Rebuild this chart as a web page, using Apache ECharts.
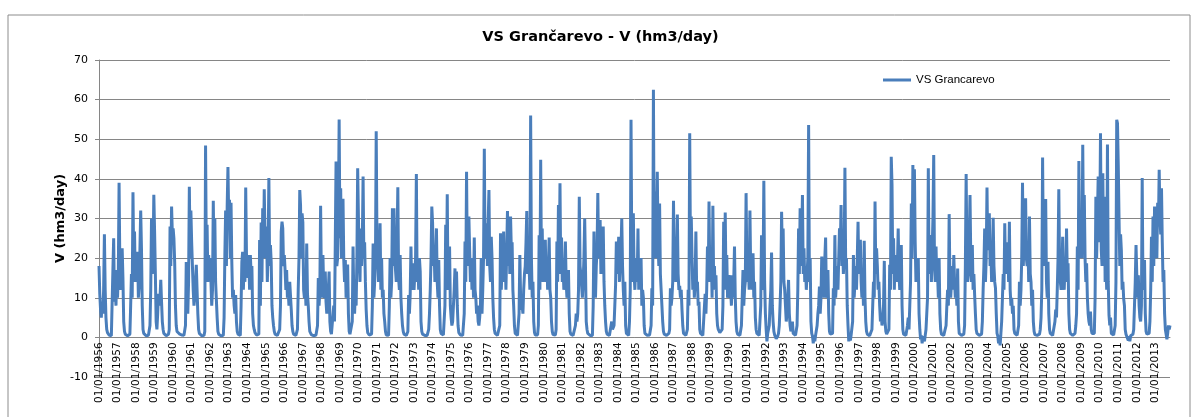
<!DOCTYPE html>
<html lang="en">
<head>
	<meta charset="UTF-8">
	<title>VS Grancarevo</title>
	<style>
		html, body { margin: 0; padding: 0; background: #fff; }
		#main { width: 1201px; height: 417px; }
	</style>
	<script src="https://cdn.jsdelivr.net/npm/echarts@6/dist/echarts.min.js"></script>
</head>
<body>
	<div id="main"></div>
	<script>
		// semi-monthly values (1st and 16th of each month), hm3/day
		var flow1950s = [
			18, 11, 7, 5, 9, 6, 12, 26, 12, 5, 2, 1.2, 0.8, 0.6, 0.5, 0.4, 0.4, 0.6, 17, 25, 9, 12, 8, 17, // 1956
			10, 16, 39, 18, 12, 14, 22.5, 15, 4, 1.5, 0.8, 0.6, 0.5, 0.4, 0.4, 0.4, 0.8, 8, 16, 10, 36.6, 18, 26.7, 14, // 1957
			21, 14, 21.6, 10, 13, 22, 32, 22.5, 8, 2, 1, 0.6, 0.5, 0.4, 0.4, 0.4, 0.5, 1, 3, 12, 30, 16, 20, 36, // 1958
			26.7, 16, 4, 2, 6, 11, 8, 10, 14.5, 9, 4, 2, 1, 0.6, 0.5, 0.4, 0.4, 0.5, 0.8, 2, 28, 18, 33, 26 // 1959
		];
		var flow1960s = [
			27.5, 25, 19, 8, 3, 1.5, 1.2, 1, 0.9, 0.8, 0.7, 0.6, 0.5, 0.5, 0.5, 0.5, 3, 19, 9, 6, 14, 38, 20, 32, // 1960
			24, 18, 12, 8, 10, 14, 18.3, 12, 6, 2, 1, 0.7, 0.5, 0.4, 0.4, 0.4, 0.5, 1.5, 48.4, 20, 28.4, 14, 20.8, 16, // 1961
			20, 20, 8, 12, 34.5, 18, 30, 14, 14, 5, 1.5, 0.8, 0.6, 0.5, 0.4, 0.4, 0.4, 0.5, 5, 20.8, 32, 18, 33, 43, // 1962
			30, 34.7, 20, 34, 19, 10, 12, 8, 6, 10.7, 4, 1.5, 0.8, 0.6, 0.5, 0.5, 8, 19, 21.6, 12, 20.8, 14, 37.8, 20.8, // 1963
			20.8, 15, 20.8, 12, 20.8, 16, 18, 6, 3, 2, 1.2, 0.8, 0.6, 0.5, 0.5, 0.8, 24.6, 8, 29, 14, 32.6, 20, 37.4, 25, // 1964
			20, 28, 14, 22, 40.2, 18, 23.3, 19, 8, 5, 3, 1.5, 0.8, 0.6, 0.5, 0.5, 0.5, 0.6, 2, 8, 26.7, 29.2, 27.5, 18, // 1965
			20.8, 17, 12, 17, 10, 12, 8, 14, 14, 7, 3, 1.5, 0.8, 0.6, 0.5, 0.5, 0.6, 2, 12, 20, 37.2, 33.4, 20, 31.3, // 1966
			29, 12, 10, 14, 8, 23.7, 11, 8, 4, 1.5, 1, 0.7, 0.5, 0.5, 0.4, 0.4, 0.5, 0.6, 1, 3, 15, 8, 12, 33.2, // 1967
			14, 10, 20.8, 12, 10, 16.6, 9, 6, 8, 12, 16.6, 4, 1.5, 0.8, 0.6, 0.8, 8, 4, 24, 44.4, 18, 20, 30, 55, // 1968
			25, 37.6, 20, 28, 35, 19.5, 14, 19.5, 10, 12, 18.4, 6, 1.5, 0.8, 0.7, 1, 4, 22.9, 10, 6, 12, 8, 20, 42.7 // 1969
		];
		var flow1970s = [
			30, 20, 14, 27.5, 18, 24, 40.6, 20, 24, 14, 7, 3, 1.2, 0.8, 0.6, 0.5, 0.5, 0.8, 8, 23.7, 10, 14, 18, 52, // 1970
			24, 26.7, 14, 20, 28.8, 12, 20, 10, 12, 6, 4, 1.5, 0.6, 0.5, 0.5, 0.5, 8, 20, 10, 14, 32.6, 18, 32.6, 20, // 1971
			20, 14, 24, 37.9, 15, 12, 20.8, 10, 6, 3, 1.5, 0.8, 0.6, 0.5, 0.5, 0.6, 1.5, 10.7, 6, 10.7, 22.9, 12, 14, 18.7, // 1972
			12, 16, 20, 41.2, 14, 18, 12, 20, 16.6, 4, 1.5, 0.8, 0.6, 0.5, 0.5, 0.4, 0.4, 0.5, 1, 2, 6, 12, 20, 33, // 1973
			29, 18, 22, 14, 20, 27.5, 14, 10, 19.5, 8, 2, 1, 0.6, 0.5, 0.6, 1, 8, 28.4, 14, 36.1, 12, 16, 22.9, 8, // 1974
			5, 3, 4, 8, 12, 17.4, 10, 16.6, 8, 3, 1.2, 0.8, 0.6, 0.5, 0.5, 0.5, 0.8, 6, 24.2, 14, 41.8, 18, 22, 30.5, // 1975
			22, 14, 20, 12, 18, 10, 25.2, 12, 10, 6, 8, 4, 3, 5, 8, 20, 6, 12, 20, 47.6, 20, 20, 28.8, 18, // 1976
			29.2, 37.2, 18, 14, 25.4, 20, 10, 5, 2, 1, 0.6, 0.5, 0.5, 0.5, 0.6, 3, 26.3, 12, 18, 14, 26.7, 16, 20, 12, // 1977
			22, 31.9, 18, 28, 16, 30.5, 22, 24, 12, 8, 3, 1, 0.6, 0.5, 0.5, 0.8, 6, 20.8, 10, 7, 8, 6, 12, 16, // 1978
			18, 24, 31.9, 16, 24, 18, 12, 56, 20, 10, 14, 4, 1.2, 0.6, 0.5, 0.5, 0.6, 3, 25.8, 12, 44.8, 18, 27.5, 14 // 1979
		];
		var flow1980s = [
			16, 20, 24.6, 14, 20, 12, 18, 25.2, 12, 10, 4, 1.5, 0.7, 0.5, 0.5, 0.6, 2, 24.2, 14, 33.4, 18, 38.9, 16, 25.2, // 1980
			14, 18, 12, 16, 24.2, 14, 10, 12, 17, 6, 1.5, 0.8, 0.5, 0.5, 0.5, 0.5, 0.6, 3, 6, 4, 6, 12, 35.5, 18, // 1981
			16, 13, 10, 14, 20, 30, 18, 4, 2, 1, 0.7, 0.5, 0.5, 0.4, 0.4, 0.5, 8, 26.7, 14, 10, 18, 22, 36.4, 20, // 1982
			22, 29.6, 16, 20, 18, 28, 14, 8, 4, 1.5, 0.8, 0.6, 0.5, 0.5, 0.5, 0.5, 4, 2, 1.5, 3, 8, 13.2, 24.2, 16, // 1983
			18, 25.4, 14, 20, 22, 30, 18, 12, 8, 14, 3, 1, 0.6, 0.5, 0.5, 4, 12, 54.9, 20, 14, 31.3, 16, 12, 18, // 1984
			20, 14, 27.5, 12, 18, 14, 20, 8, 12, 10, 3, 1, 0.6, 0.5, 0.5, 0.4, 0.5, 0.6, 1, 3, 12.4, 8, 62.5, 20, // 1985
			36.8, 20, 28, 41.8, 24, 18, 33.8, 16, 12, 8, 4, 1.5, 0.8, 0.6, 0.5, 0.5, 0.5, 0.6, 1, 2, 12.4, 8, 10, 14, // 1986
			34.5, 18, 22, 14, 20, 31, 16, 12, 13, 10, 12, 7, 3, 1, 0.6, 0.5, 0.5, 0.6, 2, 12, 8, 51.5, 20, 30.5, // 1987
			20, 12, 16.6, 10, 14, 26.7, 12, 14, 8, 9, 2, 1, 0.6, 0.5, 0.5, 0.5, 1, 11, 6, 12, 22.9, 14, 34.3, 16, // 1988
			14, 20, 10, 33.2, 14, 18, 12, 15.7, 6, 3, 2, 1.5, 1.2, 1, 1.5, 2, 8, 29.2, 12, 31.5, 14, 20.8, 10, 12 // 1989
		];
		var flow1990s = [
			15.7, 10, 12, 8, 15.7, 10, 14, 22.9, 10, 4, 1.5, 0.8, 0.6, 0.5, 0.5, 0.5, 3, 10, 17, 8, 12, 14, 36.4, 18, // 1990
			14, 18, 12, 32, 16, 20, 12, 21.2, 10, 14, 5, 2, 1, 0.6, 0.5, 0.5, 0.6, 8, 25.8, 12, 16, 39.5, 14, 6, // 1991
			2, -1, 1, 0.5, 3, 8, 12, 21.4, 8, 4, 1.5, 0.6, 0.3, -0.3, 0.2, 0.3, 1, 3, 8, 14, 31.7, 20, 27.5, 14, // 1992
			12, 8, 4, 6, 10, 14.5, 6, 3, 1.5, 1, 4, 1, 0.6, 0.5, 0.5, 0.6, 3, 12, 27.5, 16, 32.6, 18, 24, 35.9, // 1993
			16, 22.5, 14, 18, 12, 16, 20, 53.6, 14, 20, 4, 1, 0.3, -1.5, 0.5, -1, 0.5, 1, 3, 6, 8, 12.8, 6, 10, // 1994
			20.4, 12, 16, 10, 20, 25.2, 10, 12, 17, 6, 1.5, 0.8, 0.6, 0.5, 1, 12.4, 8, 25.8, 10, 14, 18, 12, 20, 27.5, // 1995
			22, 33.4, 18, 24, 16, 20, 42.8, 18, 20, 8, 3, -1, 0.5, -0.8, 0.5, 1, 4, 20.8, 10, 14, 18, 12, 20, 29.2, // 1996
			16, 20, 24.6, 14, 10, 16, 8, 24.4, 10, 4, 1.5, 0.8, 0.5, 0.5, 0.4, 0.5, 0.6, 2, 8, 14, 10, 34.3, 16, 22.5, // 1997
			18, 12, 14, 8, 4, 6, 3, 5, 8, 19.3, 4, 1.5, 0.8, 0.6, 0.5, 2, 18.3, 12, 45.6, 38.5, 16, 25, 12, 20.8, // 1998
			20.8, 14, 18, 27.5, 16, 12, 18, 23.3, 8, 2, 0.8, 0.6, 0.5, 0.5, 0.6, 3, 5, 2, 8, 14, 33.8, 20, 43.5, 28 // 1999
		];
		var flow2000s = [
			42.4, 24, 14, 16, 14, 20, 6, 2, -0.5, 0.5, -1.5, 0.3, 0.2, -1, 0.5, 2, 6, 10, 42.7, 16, 20, 25.8, 14, 22, // 2000
			30, 46, 18, 14, 22.9, 14, 16, 10, 20, 6, 2, 0.8, 0.5, 0.5, 0.5, 0.6, 1, 3, 8, 12, 8, 31.1, 14, 10, // 2001
			14, 18, 12, 20.8, 14, 10, 12, 8, 17.4, 4, 1, 0.6, 0.5, 0.5, 0.5, 0.6, 0.8, 3, 18.3, 41.2, 20, 14, 16, 24, // 2002
			35.9, 20, 14, 23.3, 12, 16, 10.7, 6, 2, 1, 0.6, 0.5, 0.5, 0.4, 0.5, 0.8, 4, 12, 18, 27.5, 14, 20, 37.8, 22, // 2003
			24, 31.3, 18, 22, 14, 20, 30.2, 18, 14, 12.4, 6, 1, 0.3, -1.5, 0.5, -2, 1, 4, 10, 16, 12, 28.8, 16, 20, // 2004
			18, 24, 14, 29.2, 12, 8, 10, 6, 8, 2, 1, 0.6, 0.5, 0.5, 0.6, 3, 14, 8, 12, 20, 39, 18, 24, 28, // 2005
			35.1, 20, 18, 24, 14, 30.5, 16, 14, 8, 12, 4, 1.5, 0.7, 0.5, 0.5, 0.5, 0.6, 1, 0.8, 2, 5, 12, 45.4, 20, // 2006
			28, 18, 34.9, 14, 10, 19.1, 6, 2, 1, 0.6, 0.5, 0.5, 0.5, 0.8, 4, 7, 5, 12, 20, 37.4, 18, 14, 12, 16, // 2007
			25.4, 16, 12, 18, 14, 27.5, 16, 18.7, 6, 2, 1, 0.6, 0.5, 0.5, 0.5, 0.6, 1, 3, 6, 22.9, 12, 44.5, 20, 28, // 2008
			30, 20, 48.6, 24, 35.9, 20, 14, 18.7, 10, 6, 4, 3, 6.5, 2, 1, 0.7, 0.6, 1, 10, 35.5, 20, 30, 40.6, 24 // 2009
		];
		var flow2010s = [
			28, 51.5, 22, 18, 41.4, 20, 35.5, 14, 20, 12, 48.7, 14, 5.6, 3, 5, 1, 0.6, 0.5, 0.6, 1, 3, 14, 54.9, 54, // 2010
			43.5, 30, 18, 26, 22, 12, 14, 9.8, 8, 2, 0.8, 0.5, 0.4, -0.8, 0.3, -1, 0.4, 0.3, 0.5, 0.8, 2, 8, 14, 23.3, // 2011
			15.7, 10, 15.7, 8, 5, 4, 8, 40.2, 12, 14, 19.5, 6, 1.5, 0.8, 0.5, 0.5, 1, 4, 12, 25.4, 14, 30.5, 18, 33, // 2012
			24, 30, 20, 34, 28, 42.3, 30, 26, 37.6, 24, 14, 17, 6, 2, 0.8, -0.5, 1, 3, 2, 3 // 2013 (to October)
		];
		var firstYear = 1956;
		var seriesName = 'VS Grancarevo';

		var flow = [].concat(flow1950s, flow1960s, flow1970s, flow1980s, flow1990s, flow2000s, flow2010s);

		// category labels dd/mm/yyyy, one per value
		function pad(n) { return n < 10 ? '0' + n : '' + n; }
		var dates = [];
		for (var i = 0; i < flow.length; i++) {
			var y = firstYear + Math.floor(i / 24);
			var m = Math.floor((i % 24) / 2) + 1;
			var d = (i % 2 === 0) ? 1 : 16;
			dates.push(pad(d) + '/' + pad(m) + '/' + y);
		}

		var gridColor = '#868686';
		var yMin = -10, yMax = 70;
		var gridTop = 60, gridBottom = 40, plotH = 417 - gridTop - gridBottom;
		// the category axis sits on the 0 line, like Excel's
		var zeroOffset = -plotH * (0 - yMin) / (yMax - yMin);

		var myChart = echarts.init(document.getElementById('main'));

		var option = {
			animation: false,
			backgroundColor: '#fff',
			textStyle: { fontFamily: 'DejaVu Sans' },
			// chart border
			graphic: [{
				type: 'rect',
				shape: { x: 8, y: 15, width: 1182, height: 430 },
				style: { fill: 'none', stroke: '#8c8c8c', lineWidth: 1 },
				silent: true
			}],
			title: {
				text: 'VS Grančarevo - V (hm3/day)',
				left: 'center',
				top: 25,
				textStyle: { fontFamily: 'DejaVu Sans', fontWeight: 'bold', fontSize: 14.5, color: '#000' }
			},
			legend: {
				data: [seriesName],
				left: 883,
				top: 74,
				padding: 0,
				icon: 'rect',
				itemWidth: 28,
				itemHeight: 3,
				textStyle: { fontFamily: 'Liberation Sans', fontSize: 11.5, color: '#000' }
			},
			grid: { left: 99, right: 31, top: gridTop, bottom: gridBottom, containLabel: false, outerBoundsMode: 'none' },
			xAxis: {
				type: 'category',
				boundaryGap: false,
				data: dates,
				offset: zeroOffset,
				axisLine: { onZero: false, lineStyle: { color: gridColor } },
				axisTick: { show: false },
				axisLabel: {
					rotate: 90,
					margin: 5,
					fontFamily: 'DejaVu Sans',
					fontSize: 10.5,
					color: '#000',
					interval: function (idx) { return idx % 24 === 0; }
				},
				splitLine: { show: false }
			},
			yAxis: {
				type: 'value',
				min: yMin,
				max: yMax,
				interval: 10,
				name: 'V (hm3/day)',
				nameLocation: 'middle',
				nameGap: 32,
				nameMoveOverlap: false,
				nameTextStyle: { fontFamily: 'DejaVu Sans', fontWeight: 'bold', fontSize: 13, color: '#000' },
				axisLine: { show: true, lineStyle: { color: gridColor } },
				axisTick: { show: true, length: 4, lineStyle: { color: gridColor } },
				axisLabel: { margin: 11, fontFamily: 'DejaVu Sans', fontSize: 11, color: '#000' },
				splitLine: { lineStyle: { color: gridColor, width: 1 } }
			},
			series: [{
				name: seriesName,
				type: 'line',
				data: flow,
				showSymbol: false,
				symbol: 'none',
				color: '#4a7ebb',
				lineStyle: { color: '#4a7ebb', width: 3 }
			}]
		};

		myChart.setOption(option);
	</script>
</body>
</html>
